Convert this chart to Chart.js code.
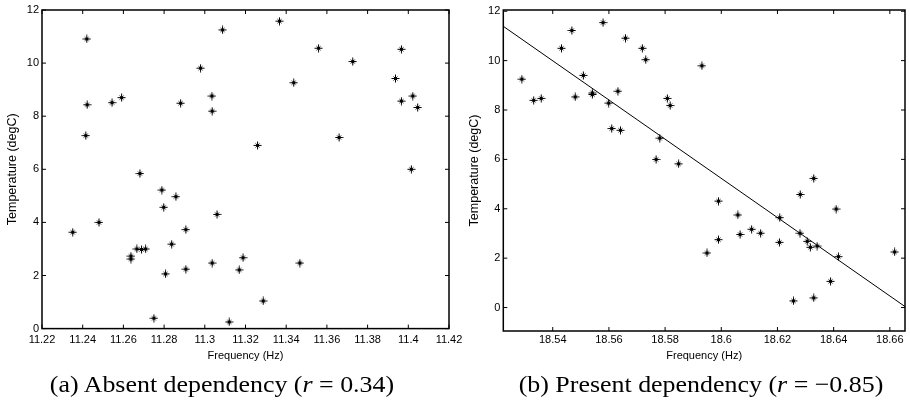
<!DOCTYPE html>
<html>
<head>
<meta charset="utf-8">
<script src="https://cdn.jsdelivr.net/npm/chart.js@4/dist/chart.umd.min.js"></script>
<style>
  body { margin: 0; background: #fff; width: 910px; height: 401px; overflow: hidden; position: relative; }
  .box { position: absolute; left: 0; top: 0; width: 910px; height: 401px; }
  .cap { position: absolute; top: 370px; font-family: "Liberation Serif", serif; font-size: 24px; line-height: 28px;
         white-space: nowrap; transform: translateX(-50%) scaleX(1.08); color: #000; }
</style>
</head>
<body>
<div class="box"><canvas id="chartA"></canvas></div>
<div class="box"><canvas id="chartB"></canvas></div>
<div class="cap" style="left:222px">(a) Absent dependency (<i>r</i> = 0.34)</div>
<div class="cap" style="left:701px">(b) Present dependency (<i>r</i> = −0.85)</div>
<script>
// (a) absent dependency
const freqA = [11.2351, 11.2420, 11.2422, 11.2415, 11.2480, 11.2544, 11.2591, 11.2637, 11.2637,
  11.2666, 11.2689, 11.2709, 11.2681, 11.2750, 11.2789, 11.2798, 11.2807, 11.2837, 11.2858,
  11.2881, 11.2907, 11.2907, 11.2979, 11.3035, 11.3036, 11.3036, 11.3060, 11.3087, 11.3120,
  11.3169, 11.3188, 11.3259, 11.3287, 11.3367, 11.3437, 11.3467, 11.3559, 11.3660, 11.3727,
  11.3937, 11.3966, 11.3966, 11.4015, 11.4022, 11.4046];
const tempA = [3.63, 10.91, 8.43, 7.27, 4.00, 8.51, 8.70, 2.73, 2.62,
  3.00, 2.98, 3.00, 5.84, 0.39, 5.22, 4.57, 2.06, 3.18, 4.97,
  8.49, 3.73, 2.24, 9.81, 8.76, 8.19, 2.47, 4.30, 11.25, 0.25,
  2.21, 2.67, 6.90, 1.04, 11.58, 9.26, 2.47, 10.56, 7.20, 10.06,
  9.42, 10.52, 8.57, 6.00, 8.76, 8.33];

// (b) present dependency
const freqB = [18.5290, 18.5332, 18.5359, 18.5431, 18.5468, 18.5480, 18.5509, 18.5541, 18.5541,
  18.5579, 18.5599, 18.5610, 18.5632, 18.5641, 18.5659, 18.5719, 18.5731, 18.5768, 18.5781,
  18.5808, 18.5818, 18.5848, 18.5931, 18.5949, 18.5990, 18.5990, 18.6059, 18.6067, 18.6108,
  18.6140, 18.6207, 18.6208, 18.6257, 18.6280, 18.6281, 18.6306, 18.6317, 18.6329, 18.6329,
  18.6341, 18.6389, 18.6409, 18.6417, 18.6617];
const tempB = [9.25, 8.39, 8.47, 10.50, 11.22, 8.53, 9.40, 8.69, 8.63,
  11.54, 8.28, 7.25, 8.76, 7.18, 10.91, 10.50, 10.04, 6.00, 6.86,
  8.47, 8.18, 5.82, 9.79, 2.21, 4.31, 2.75, 3.75, 2.96, 3.17,
  3.01, 2.64, 3.64, 0.27, 3.01, 4.58, 2.68, 2.44, 5.23, 0.39,
  2.49, 1.06, 3.99, 2.06, 2.25];
const fitFreqB = [18.5224, 18.6654];
const fitTempB = [11.39, 0.04];

const xTicksA = [11.22, 11.24, 11.26, 11.28, 11.30, 11.32, 11.34, 11.36, 11.38, 11.40, 11.42];
const xTicksB = [18.54, 18.56, 18.58, 18.60, 18.62, 18.64, 18.66];
const yTicksA = [0, 2, 4, 6, 8, 10, 12];
const yTicksB = [0, 2, 4, 6, 8, 10, 12];

const toPts = (xs, ys) => xs.map((x, i) => ({ x: x, y: ys[i] }));

// small matlab-ish '*' marker: plus with a heavy centre and faint diagonals
const markerImg = document.createElement('canvas');
markerImg.width = 9;
markerImg.height = 9;
(function () {
  const c = markerImg.getContext('2d');
  c.strokeStyle = '#888';
  c.lineWidth = 1;
  c.beginPath();
  c.moveTo(2, 2); c.lineTo(7, 7);
  c.moveTo(7, 2); c.lineTo(2, 7);
  c.stroke();
  c.strokeStyle = '#000';
  c.beginPath();
  c.moveTo(0.5, 4.5); c.lineTo(8.5, 4.5);
  c.moveTo(4.5, 0.5); c.lineTo(4.5, 8.5);
  c.stroke();
  c.fillStyle = '#000';
  c.fillRect(3, 3, 3, 3);
})();

// matlab style box with inward ticks on every side
const frame = {
  id: 'frame',
  afterDraw(chart) {
    const { ctx, chartArea: a, scales: { x, y } } = chart;
    ctx.save();
    ctx.strokeStyle = '#000';
    ctx.lineWidth = 1.5;
    ctx.strokeRect(a.left, a.top, a.right - a.left, a.bottom - a.top);
    ctx.lineWidth = 1;
    ctx.beginPath();
    x.ticks.forEach(t => {
      const px = x.getPixelForValue(t.value);
      ctx.moveTo(px, a.bottom); ctx.lineTo(px, a.bottom - 4);
      ctx.moveTo(px, a.top); ctx.lineTo(px, a.top + 4);
    });
    y.ticks.forEach(t => {
      const py = y.getPixelForValue(t.value);
      ctx.moveTo(a.left, py); ctx.lineTo(a.left + 4, py);
      ctx.moveTo(a.right, py); ctx.lineTo(a.right - 4, py);
    });
    ctx.stroke();
    ctx.restore();
  }
};

const font = { family: 'Liberation Sans, Arial, sans-serif', size: 11 };
const yTitleFont = { family: 'Liberation Sans, Arial, sans-serif', size: 12.5 };

function axes(xTicks, yTicks, xMin, xMax, yMin, yMax, yWidth, xHeight, yTitlePad, xLabelPad) {
  return {
    x: {
      type: 'linear', min: xMin, max: xMax,
      grid: { display: false, drawTicks: false }, border: { display: false },
      afterBuildTicks: s => { s.ticks = xTicks.map(v => ({ value: v })); },
      afterFit: s => { s.height = xHeight; },
      ticks: { color: '#000', font: font, padding: xLabelPad, maxRotation: 0, autoSkip: false,
               callback: v => String(+v.toFixed(2)) },
      title: { display: true, text: 'Frequency (Hz)', color: '#000', font: font, padding: 0 }
    },
    y: {
      type: 'linear', min: yMin, max: yMax,
      grid: { display: false, drawTicks: false }, border: { display: false },
      afterBuildTicks: s => { s.ticks = yTicks.map(v => ({ value: v })); },
      afterFit: s => { s.width = yWidth; },
      ticks: { color: '#000', font: font, padding: 3, autoSkip: false },
      title: { display: true, text: 'Temperature (degC)', color: '#000', font: yTitleFont,
               padding: { top: yTitlePad, bottom: 0 } }
    }
  };
}

const marker = {
  pointStyle: markerImg, pointRadius: 4, pointHoverRadius: 4,
  borderColor: '#000', backgroundColor: '#000'
};

new Chart(document.getElementById('chartA'), {
  type: 'scatter',
  data: {
    datasets: [{ label: 'a', data: toPts(freqA, tempA), ...marker }]
  },
  options: {
    responsive: true, maintainAspectRatio: false, animation: false,
    layout: { padding: { left: 0, top: 10, right: 461, bottom: 38.9 } },
    plugins: { legend: { display: false }, tooltip: { enabled: false } },
    scales: axes(xTicksA, yTicksA, 11.22, 11.42, 0, 12, 42, 33.5, 5.5, 5)
  },
  plugins: [frame]
});

new Chart(document.getElementById('chartB'), {
  type: 'scatter',
  data: {
    datasets: [
      { label: 'b', data: toPts(freqB, tempB), ...marker },
      { type: 'line', label: 'fit', data: toPts(fitFreqB, fitTempB), showLine: true,
        borderColor: '#000', borderWidth: 1, pointRadius: 0, fill: false }
    ]
  },
  options: {
    responsive: true, maintainAspectRatio: false, animation: false,
    layout: { padding: { left: 455, top: 10, right: 1.5, bottom: 38.9 } },
    plugins: { legend: { display: false }, tooltip: { enabled: false } },
    scales: axes(xTicksB, yTicksB, 18.5224, 18.6654, -0.95, 12.05, 48.3, 31.1, 12.5, 2.4)
  },
  plugins: [frame]
});
</script>
</body>
</html>
